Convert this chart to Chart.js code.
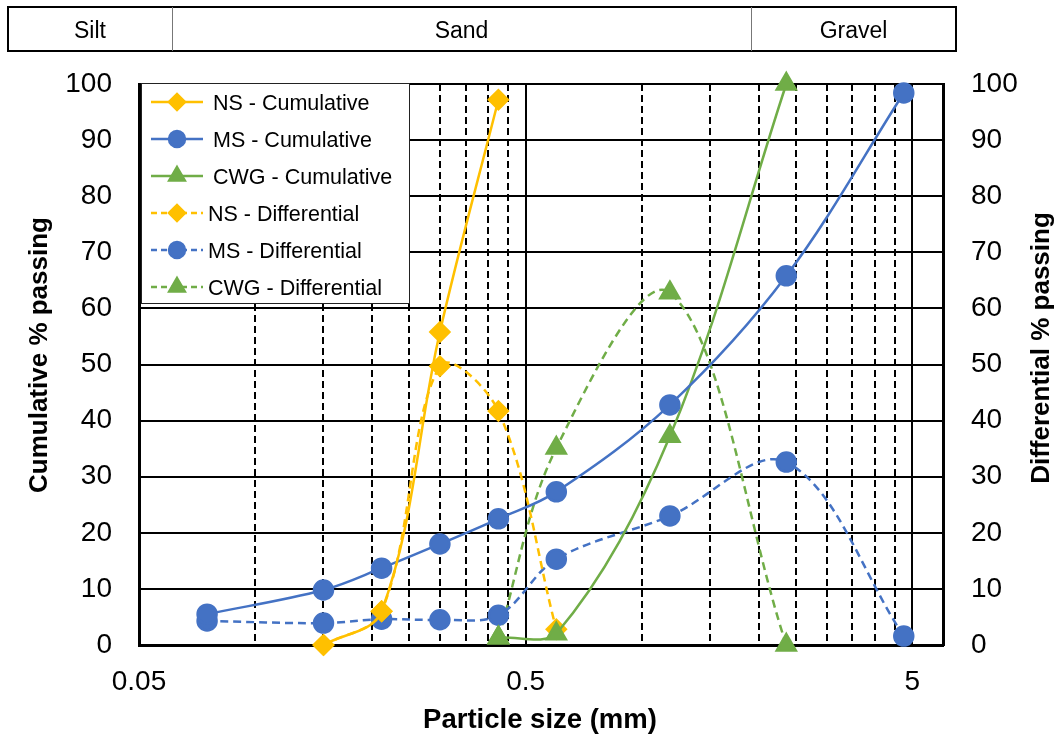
<!DOCTYPE html>
<html>
<head>
<meta charset="utf-8">
<script src="https://cdn.jsdelivr.net/npm/chart.js@4.4.0/dist/chart.umd.min.js"></script>
<style>
  html, body { margin: 0; padding: 0; background: #fff; }
  #wrap { width: 1064px; height: 740px; }
</style>
</head>
<body>
<div id="wrap"><canvas id="gradationChart" width="1064" height="740"></canvas></div>
<script>
// sieve sizes (mm) and % passing
const sizes = [0.075, 0.15, 0.212, 0.3, 0.425, 0.6, 1.18, 2.36, 4.75];
const nsCumulative = [null, 0, 6, 55.8, 97.2, null, null, null, null];
const msCumulative = [5.5, 9.8, 13.7, 18.0, 22.5, 27.3, 42.8, 65.8, 98.4];
const cwgCumulative = [null, null, null, null, 1.3, 2, 37.2, 100, null];
const nsDifferential = [null, 0, 6, 49.7, 41.7, 2.8, null, null, null];
const msDifferential = [4.3, 3.9, 4.6, 4.5, 5.3, 15.3, 23.0, 32.6, 1.6];
const cwgDifferential = [null, null, null, null, 1.3, 35.1, 62.8, 0, null];

const xTicks = [0.05, 0.5, 5];
const xMinorTicks = [0.1, 0.15, 0.2, 0.25, 0.3, 0.35, 0.4, 0.45, 1, 1.5, 2, 2.5, 3, 3.5, 4, 4.5];
const soilClasses = ['Silt', 'Sand', 'Gravel'];

const ORANGE = '#FFC000', BLUE = '#4472C4', GREEN = '#70AD47';
const FONT = '"Liberation Sans", Arial, sans-serif';
Chart.defaults.font.family = FONT;
Chart.defaults.color = '#000';

function pts(arr) {
  return sizes.map((s, i) => ({ x: s, y: arr[i] })).filter(p => p.y !== null);
}

function series(label, arr, color, style, dashed, radius) {
  return {
    label: label,
    data: pts(arr),
    yAxisID: dashed ? 'y1' : 'y',
    borderColor: color,
    backgroundColor: color,
    pointBackgroundColor: color,
    pointBorderColor: color,
    borderWidth: 2.5,
    borderDash: dashed ? [8, 5] : [],
    pointStyle: style,
    pointRadius: radius,
    pointHoverRadius: radius,
    tension: 0.35,
    clip: false
  };
}

const overlay = {
  id: 'overlay',
  beforeDraw(chart) {
    const ctx = chart.ctx;
    ctx.save();
    ctx.fillStyle = '#fff';
    ctx.fillRect(0, 0, chart.width, chart.height);
    ctx.restore();
  },
  afterDraw(chart) {
    const ctx = chart.ctx;
    ctx.save();

    // soil class band at the top
    const bx = [8, 172, 751, 956];
    ctx.strokeStyle = '#000';
    ctx.lineWidth = 2;
    ctx.strokeRect(bx[0], 7, bx[3] - bx[0], 44);
    ctx.strokeStyle = '#777';
    ctx.lineWidth = 1;
    [bx[1], bx[2]].forEach(x => {
      ctx.beginPath(); ctx.moveTo(x + 0.5, 7); ctx.lineTo(x + 0.5, 51); ctx.stroke();
    });
    ctx.fillStyle = '#000';
    ctx.font = '23px ' + FONT;
    ctx.textAlign = 'center';
    ctx.textBaseline = 'alphabetic';
    soilClasses.forEach((t, i) => ctx.fillText(t, (bx[i] + bx[i + 1]) / 2, 37.5));

    // legend box
    ctx.fillStyle = '#fff';
    ctx.fillRect(141, 83, 269, 221);
    ctx.strokeStyle = '#222';
    ctx.lineWidth = 1;
    ctx.strokeRect(141.5, 83.5, 268, 220);
    chart.data.datasets.forEach((ds, i) => {
      const y = 102 + i * 37;
      const dashed = ds.borderDash.length > 0;
      ctx.strokeStyle = ds.borderColor;
      ctx.lineWidth = 2.5;
      ctx.setLineDash(dashed ? [6, 4] : []);
      ctx.beginPath(); ctx.moveTo(151, y); ctx.lineTo(203, y); ctx.stroke();
      ctx.setLineDash([]);
      ctx.fillStyle = ds.borderColor;
      Chart.helpers.drawPoint(ctx, {
        pointStyle: ds.pointStyle,
        radius: ds.pointStyle === 'triangle' ? 9 : 8,
        rotation: 0,
        borderWidth: 1
      }, 177, y);
      ctx.fillStyle = '#000';
      ctx.font = '21.5px ' + FONT;
      ctx.textAlign = 'left';
      ctx.textBaseline = 'alphabetic';
      ctx.fillText(ds.label, dashed ? 208 : 213, y + 7.5);
    });

    // axis titles
    ctx.fillStyle = '#000';
    ctx.textAlign = 'center';
    ctx.textBaseline = 'alphabetic';
    ctx.font = 'bold 27.5px ' + FONT;
    ctx.fillText('Particle size (mm)', 540, 728);
    ctx.font = 'bold 26px ' + FONT;
    ctx.save();
    ctx.translate(47, 355);
    ctx.rotate(-Math.PI / 2);
    ctx.fillText('Cumulative % passing', 0, 0);
    ctx.restore();
    ctx.save();
    ctx.translate(1049, 348);
    ctx.rotate(-Math.PI / 2);
    ctx.fillText('Differential % passing', 0, 0);
    ctx.restore();

    ctx.restore();
  }
};

const ctx = document.getElementById('gradationChart').getContext('2d');
const gradationChart = new Chart(ctx, {
  type: 'line',
  data: {
    datasets: [
      series('NS - Cumulative', nsCumulative, ORANGE, 'rectRot', false, 9.5),
      series('MS - Cumulative', msCumulative, BLUE, 'circle', false, 9.5),
      series('CWG - Cumulative', cwgCumulative, GREEN, 'triangle', false, 11),
      series('NS - Differential', nsDifferential, ORANGE, 'rectRot', true, 9.5),
      series('MS - Differential', msDifferential, BLUE, 'circle', true, 9.5),
      series('CWG - Differential', cwgDifferential, GREEN, 'triangle', true, 11)
    ]
  },
  plugins: [overlay],
  options: {
    responsive: false,
    devicePixelRatio: 1,
    animation: false,
    layout: { padding: { top: 84, left: 0, right: 0, bottom: 0 } },
    plugins: {
      legend: { display: false },
      tooltip: { enabled: false }
    },
    scales: {
      x: {
        type: 'logarithmic',
        position: 'bottom',
        min: 0.05,
        max: 6,
        afterBuildTicks: (scale) => { scale.ticks = xTicks.map(v => ({ value: v })); },
        afterFit: (scale) => { scale.height = 95; },
        ticks: {
          font: { size: 28 },
          padding: 20,
          maxRotation: 0,
          autoSkip: false,
          callback: (v) => String(v)
        },
        grid: { color: '#000', lineWidth: 2, drawTicks: false },
        border: { color: '#000', width: 3 }
      },
      xMinor: {
        type: 'logarithmic',
        position: 'bottom',
        min: 0.05,
        max: 6,
        afterBuildTicks: (scale) => { scale.ticks = xMinorTicks.map(v => ({ value: v })); },
        afterFit: (scale) => { scale.height = 0; },
        ticks: { display: false },
        grid: { color: '#000', lineWidth: 2, drawTicks: false },
        border: { display: false, dash: [7, 4] }
      },
      y: {
        position: 'left',
        min: 0,
        max: 100,
        afterFit: (scale) => { scale.width = 139; },
        ticks: { stepSize: 10, font: { size: 28 }, padding: 27 },
        grid: { color: '#000', lineWidth: 2, drawTicks: false },
        border: { color: '#000', width: 3 }
      },
      y1: {
        position: 'right',
        min: 0,
        max: 100,
        afterFit: (scale) => { scale.width = 121; },
        ticks: { stepSize: 10, font: { size: 28 }, padding: 28 },
        grid: { drawOnChartArea: false, drawTicks: false },
        border: { color: '#000', width: 3 }
      }
    }
  }
});
</script>
</body>
</html>
